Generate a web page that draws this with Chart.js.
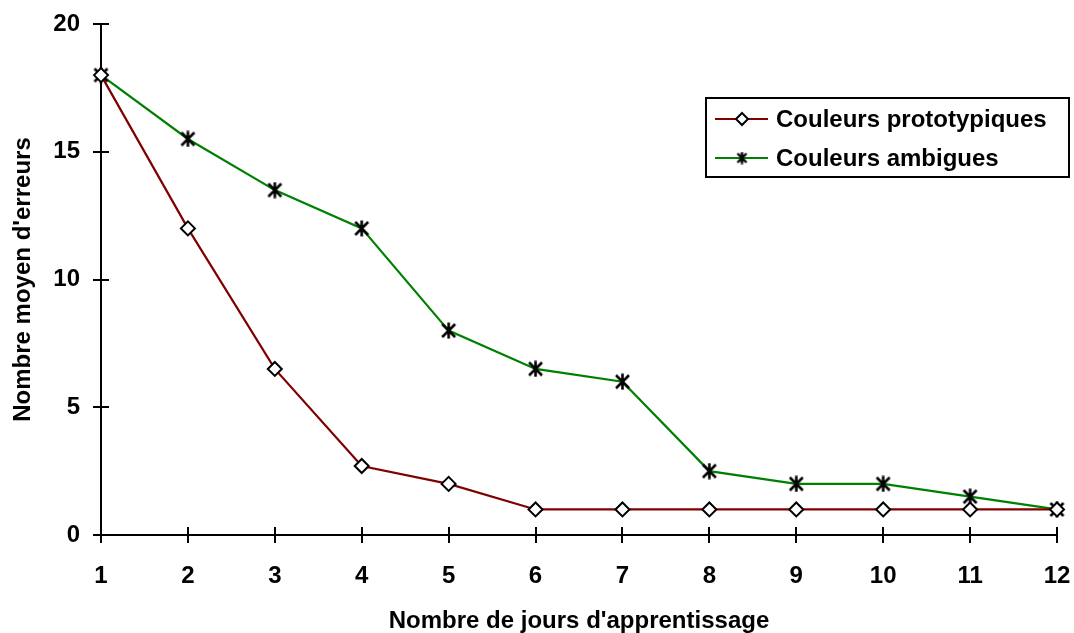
<!DOCTYPE html>
<html>
<head>
<meta charset="utf-8">
<script src="https://cdn.jsdelivr.net/npm/chart.js@4/dist/chart.umd.min.js"></script>
<style>
html,body{margin:0;padding:0;background:#fff;}
#wrap{width:1074px;height:633px;}
</style>
</head>
<body>
<div id="wrap"><canvas id="c" width="1074" height="633"></canvas></div>
<script>
const days = ['1','2','3','4','5','6','7','8','9','10','11','12'];
const prototypiques = [18, 12, 6.5, 2.7, 2, 1, 1, 1, 1, 1, 1, 1];
const ambigues = [18, 15.5, 13.5, 12, 8, 6.5, 6, 2.5, 2, 2, 1.5, 1];
const yTicks = [0, 5, 10, 15, 20];
const seriesNames = ['Couleurs prototypiques', 'Couleurs ambigues'];
const xTitle = "Nombre de jours d'apprentissage";
const yTitle = "Nombre moyen d'erreurs";

const FONT = '"Liberation Sans", Arial, sans-serif';

function starCanvas(size, lw) {
  const c = document.createElement('canvas');
  c.width = size; c.height = size;
  const g = c.getContext('2d');
  g.strokeStyle = '#000'; g.lineWidth = lw; g.lineCap = 'butt';
  const m = 2, s = size - 2;
  g.beginPath();
  g.moveTo(m, m); g.lineTo(s, s);
  g.moveTo(s, m); g.lineTo(m, s);
  g.moveTo(size / 2, 0.5); g.lineTo(size / 2, size - 0.5);
  g.stroke();
  return c;
}
const starBig = starCanvas(17, 2.6);
const starSmall = starCanvas(13, 2.4);

const crossTicks = {
  id: 'crossTicks',
  afterDraw(chart) {
    const ctx = chart.ctx;
    const x = chart.scales.x, y = chart.scales.y;
    const a = chart.chartArea;
    ctx.save();
    ctx.strokeStyle = '#000';
    ctx.lineWidth = 2;
    ctx.beginPath();
    x.ticks.forEach((t, i) => {
      const px = Math.round(x.getPixelForTick(i));
      ctx.moveTo(px, a.bottom - 8); ctx.lineTo(px, a.bottom + 8);
    });
    y.ticks.forEach((t, i) => {
      const py = Math.round(y.getPixelForTick(i));
      ctx.moveTo(a.left - 8, py); ctx.lineTo(a.left + 8, py);
    });
    ctx.stroke();
    ctx.restore();
  }
};

const boxLegend = {
  id: 'boxLegend',
  afterDraw(chart) {
    const ctx = chart.ctx;
    ctx.save();
    const L = 706, T = 98, W = 363, H = 79;
    ctx.strokeStyle = '#000'; ctx.lineWidth = 2;
    ctx.strokeRect(L, T, W, H);
    ctx.font = 'bold 24px ' + FONT;
    ctx.textBaseline = 'middle';
    ctx.fillStyle = '#000';
    chart.data.datasets.forEach((ds, i) => {
      const cy = i === 0 ? 119 : 158;
      ctx.strokeStyle = ds.borderColor; ctx.lineWidth = 2;
      ctx.beginPath(); ctx.moveTo(715, cy); ctx.lineTo(768, cy); ctx.stroke();
      if (i === 0) {
        ctx.fillStyle = '#fff'; ctx.strokeStyle = '#000'; ctx.lineWidth = 2;
        ctx.beginPath();
        ctx.moveTo(742, cy - 6); ctx.lineTo(748, cy); ctx.lineTo(742, cy + 6); ctx.lineTo(736, cy); ctx.closePath();
        ctx.fill(); ctx.stroke();
      } else {
        ctx.drawImage(starSmall, 742 - 6.5, cy - 6.5);
      }
      ctx.fillStyle = '#000';
      ctx.fillText(ds.label, 776, cy + 1);
    });
    ctx.restore();
  }
};

new Chart(document.getElementById('c'), {
  type: 'line',
  data: {
    labels: days,
    datasets: [
      {
        label: seriesNames[0],
        data: prototypiques,
        borderColor: '#800000',
        borderWidth: 2.2,
        pointStyle: 'rectRot',
        pointRadius: 7,
        pointBackgroundColor: '#fff',
        pointBorderColor: '#000',
        pointBorderWidth: 2,
        tension: 0,
        clip: false
      },
      {
        label: seriesNames[1],
        data: ambigues,
        borderColor: '#008000',
        borderWidth: 2.2,
        pointStyle: starBig,
        pointRadius: 8,
        tension: 0,
        clip: false
      }
    ]
  },
  options: {
    responsive: false,
    animation: false,
    devicePixelRatio: 1,
    layout: { padding: { top: 24, right: 17, left: 0, bottom: 0 } },
    plugins: { legend: { display: false }, tooltip: { enabled: false } },
    scales: {
      x: {
        offset: false,
        grid: { display: true, drawOnChartArea: false, drawTicks: false },
        border: { display: true, color: '#000', width: 2 },
        ticks: { color: '#000', padding: 27, maxRotation: 0, font: { family: FONT, size: 24, weight: 'bold' } },
        title: { display: true, text: xTitle, color: '#000', padding: { top: 14, bottom: 0 }, font: { family: FONT, size: 24, weight: 'bold', lineHeight: 1 } },
        afterFit(s) { s.height = 98; s.paddingLeft = 0; s.paddingRight = 0; }
      },
      y: {
        min: 0, max: 20,
        afterBuildTicks(s) { s.ticks = yTicks.map(v => ({ value: v })); },
        grid: { display: true, drawOnChartArea: false, drawTicks: false },
        border: { display: true, color: '#000', width: 2 },
        ticks: { color: '#000', padding: 21, font: { family: FONT, size: 24, weight: 'bold' } },
        title: { display: true, text: yTitle, color: '#000', padding: { top: 9, bottom: 0 }, font: { family: FONT, size: 24, weight: 'bold' } },
        afterFit(s) { s.width = 101; s.paddingTop = 0; s.paddingBottom = 0; }
      }
    }
  },
  plugins: [crossTicks, boxLegend]
});
</script>
</body>
</html>
